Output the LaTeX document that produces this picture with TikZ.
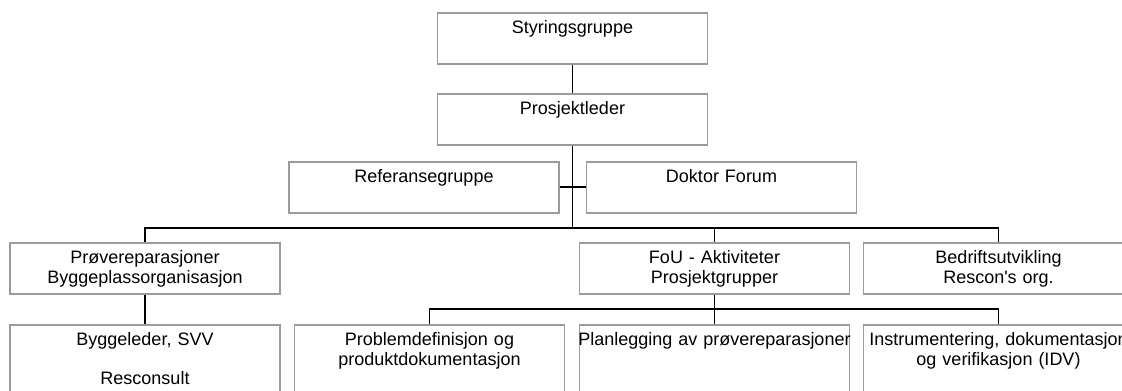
\documentclass[tikz,border=0pt]{standalone}
\usepackage{fontspec}
\setmainfont{Liberation Sans}
\usetikzlibrary{positioning, calc}
\definecolor{boxgray}{RGB}{155,155,155}
\newcommand{\oneline}[1]{\makebox[\linewidth]{#1}}

\begin{document}
\begin{tikzpicture}[x=0.75pt, y=-0.75pt,
  orgbox/.style={draw=boxgray, line width=1.3pt, fill=white, anchor=north,
    text width=202.5pt, inner xsep=0pt, inner ysep=1.5pt, align=center,
    text height=14pt, text depth=21.25pt,
    font=\fontsize{13.5pt}{14.6pt}\selectfont},
  tallbox/.style={orgbox, text depth=60pt},
  link/.style={draw=black, line width=1.4pt}]
  \useasboundingbox (0,0) rectangle (1122,390);
  \clip (0,0) rectangle (1122,390);
  \fill[white] (0,0) rectangle (1122,390);

  % management
  \node[orgbox] (styr) at (572.5,12) {Styringsgruppe};
  \node[orgbox] (pleder) at (572.5,93) {Prosjektleder};
  \node[orgbox] (refgr) at (424,161) {Referansegruppe};
  \node[orgbox] (doktor) at (721.5,161) {Doktor Forum};

  % activities
  \node[orgbox] (prove) at (145,242) {Prøvereparasjoner\\Byggeplassorganisasjon};
  \node[orgbox] (fou) at (714.5,242) {FoU - Aktiviteter\\Prosjektgrupper};
  \node[orgbox] (bedrift) at (998.5,242) {Bedriftsutvikling\\Rescon\textquotesingle s org.};

  % project groups
  \node[tallbox] (bygg) at (145,324) {Byggeleder, SVV\\[\baselineskip]Resconsult};
  \node[tallbox] (problem) at (429.5,324) {Problemdefinisjon og\\produktdokumentasjon};
  \node[tallbox] (planl) at (714.5,324) {\oneline{Planlegging av prøvereparasjoner}};
  \node[tallbox] (instr) at (998.5,324) {\oneline{Instrumentering, dokumentasjon}\\og verifikasjon (IDV)};

  \coordinate (bus) at (572.5,228);
  \coordinate (fbus) at (714.5,309);

  \draw[link] (styr) -- (pleder);
  \draw[link] (pleder) -- (bus);
  \draw[link] (refgr) -- (doktor);
  \draw[link] (prove.north) |- (bus) -| (bedrift.north);
  \draw[link] (fou.north) -- (fou.north |- bus);
  \draw[link] (prove) -- (bygg);
  \draw[link] (fou) -- (planl);
  \draw[link] (problem.north) |- (fbus) -| (instr.north);
\end{tikzpicture}
\end{document}
